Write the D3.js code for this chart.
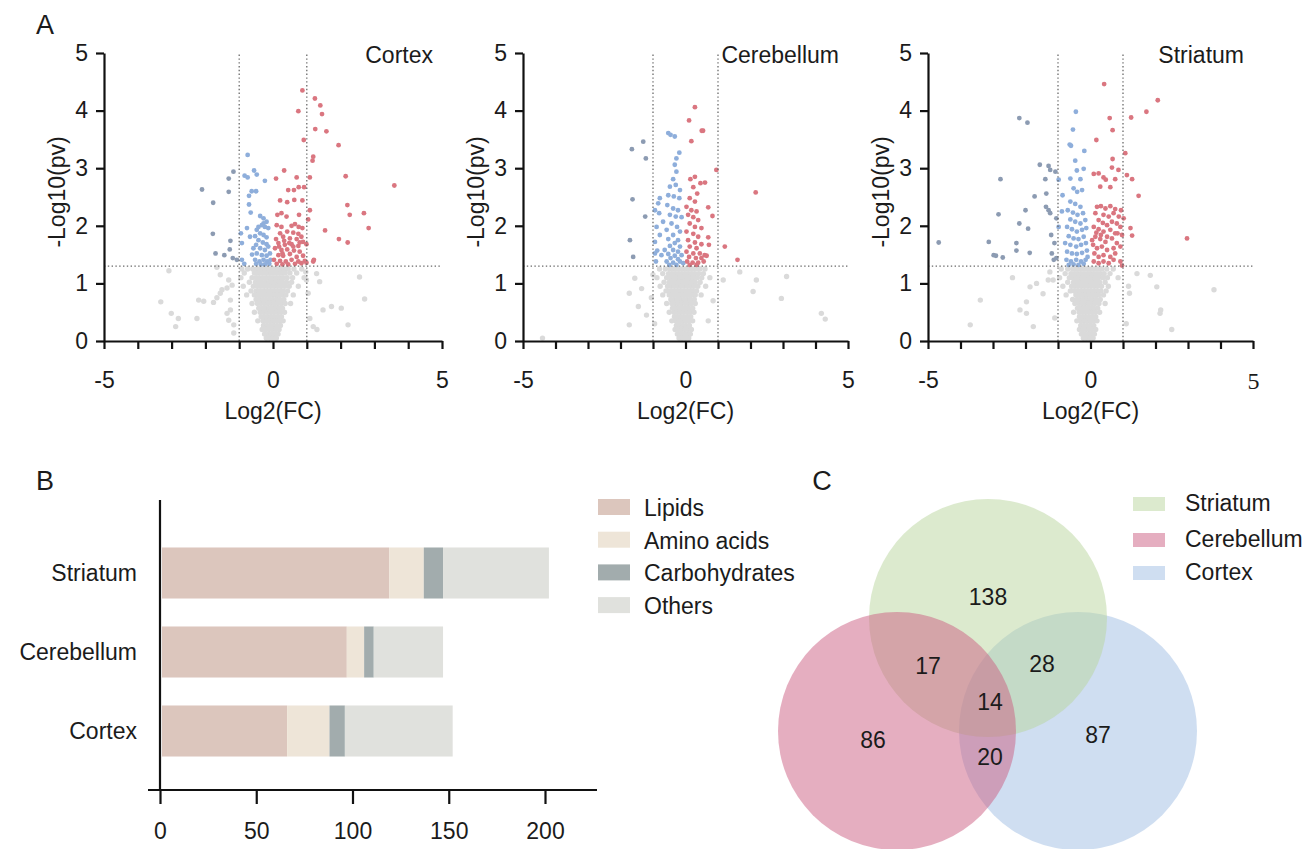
<!DOCTYPE html>
<html><head><meta charset="utf-8">
<script src="https://cdn.jsdelivr.net/npm/d3@7"></script>
<style>body{margin:0;background:#fff}svg{display:block}</style>
</head><body>
<svg id="chart" width="1315" height="849"></svg>
<script>
// ---------------- DATA ----------------
const regions = ["Cortex", "Cerebellum", "Striatum"];
const log2fcDomain = [-5, 5];
const pvDomain = [0, 5];
const xTickValues = [-5, -4, -3, -2, -1, 0, 1, 2, 3, 4, 5];
const xTickLabels = [-5, 0, 5];
const yTickValues = [0, 1, 2, 3, 4, 5];
const pvThreshold = 1.3;
const fcThresholds = [-1, 1];

// Cortex
const cortexUp = [[0.87,4.35],[1.24,4.21],[1.40,4.09],[1.45,3.94],[0.75,3.99],[1.25,3.68],[1.58,3.64],[1.94,3.40],[0.91,3.49],[1.19,3.20],[1.17,3.13],[0.33,2.96],[0.09,2.82],[0.70,2.84],[1.09,2.84],[2.15,2.86],[3.59,2.70],[0.92,2.67],[0.76,2.67],[0.62,2.62],[0.45,2.62],[0.21,2.44],[0.42,2.41],[0.63,2.45],[0.87,2.44],[1.09,2.27],[2.20,2.36],[2.27,2.19],[2.69,2.22],[2.83,1.96],[1.54,1.92],[1.95,1.77],[2.21,1.71],[0.13,2.19],[0.25,2.22],[0.40,2.16],[0.77,2.19],[1.04,2.11],
[0.11,2.01],[0.25,1.98],[0.55,2.00],[0.65,2.03],[0.76,1.98],[0.87,1.96],[0.21,1.87],[0.42,1.90],[0.60,1.88],[0.75,1.86],[0.84,1.81],[0.09,1.77],[0.30,1.81],[0.50,1.78],[0.70,1.77],[0.89,1.72],[0.16,1.70],[0.35,1.67],[0.55,1.68],[0.75,1.65],[0.99,1.68],[0.06,1.61],[0.25,1.58],[0.42,1.59],[0.62,1.57],[0.79,1.55],[0.16,1.49],[0.30,1.48],[0.50,1.51],[0.70,1.46],[0.89,1.48],[0.03,1.41],[0.21,1.39],[0.38,1.38],[0.55,1.41],[0.75,1.38],[0.94,1.39],[0.11,1.34],[0.28,1.33],[0.45,1.33],[0.65,1.34],[0.84,1.35],[0.99,1.36],[1.19,1.38],[1.21,1.41],[0.18,1.64],[0.48,1.70],[0.60,1.64],[0.28,1.52],[0.79,1.71],[0.33,1.74]];
const cortexDown = [[-0.75,3.23],[-1.31,2.82],[-1.17,2.94],[-1.31,2.59],[-0.84,2.87],[-0.75,2.84],[-0.56,2.96],[-0.48,2.89],[-0.24,2.78],[-0.63,2.60],[-0.50,2.60],[-0.71,2.52],[-0.71,2.37],[-0.66,2.23],[-2.10,2.63],[-1.77,2.40],[-1.78,1.86],[-1.26,1.74],[-1.28,1.59],[-1.44,1.49],[-1.70,1.52],[-1.07,1.41],[-1.19,1.44],[-0.92,1.70],[-0.95,1.87],[-0.77,1.96],[-0.68,1.81],[-0.92,1.41],[-0.85,1.34],[-0.62,1.50],
[-0.38,2.17],[-0.28,2.13],[-0.19,2.07],[-0.33,2.01],[-0.24,1.98],[-0.14,1.96],[-0.48,1.93],[-0.38,1.87],[-0.28,1.84],[-0.19,1.80],[-0.53,1.82],[-0.43,1.75],[-0.30,1.71],[-0.19,1.68],[-0.50,1.67],[-0.38,1.61],[-0.24,1.58],[-0.14,1.64],[-0.48,1.52],[-0.33,1.49],[-0.19,1.48],[-0.09,1.52],[-0.53,1.41],[-0.40,1.38],[-0.28,1.41],[-0.17,1.38],[-0.07,1.41],[-0.50,1.34],[-0.36,1.33],[-0.24,1.33],[-0.11,1.34],[-0.28,2.04],[-0.43,1.98],[-0.58,1.61]];
const cortexGrayRows = [
 [1.25,[-0.92,-0.75,-0.6,-0.48,-0.38,-0.28,-0.18,-0.08,0.02,0.12,0.22,0.33,0.45,0.62,0.85]],
 [1.18,[-0.85,-0.55,-0.45,-0.35,-0.24,-0.15,-0.05,0.05,0.15,0.25,0.36,0.5,0.7]],
 [1.10,[-0.95,-0.62,-0.5,-0.4,-0.3,-0.2,-0.1,0.0,0.1,0.2,0.3,0.42,0.58,0.92]],
 [1.02,[-0.7,-0.52,-0.42,-0.33,-0.22,-0.12,-0.02,0.08,0.18,0.28,0.4,0.55]],
 [0.95,[-0.88,-0.58,-0.46,-0.36,-0.26,-0.16,-0.06,0.04,0.14,0.24,0.35,0.48,0.75]],
 [0.87,[-0.65,-0.5,-0.4,-0.3,-0.2,-0.1,0.0,0.1,0.2,0.3,0.43]],
 [0.80,[-0.78,-0.55,-0.44,-0.34,-0.24,-0.14,-0.04,0.06,0.16,0.26,0.38,0.6]],
 [0.72,[-0.5,-0.4,-0.3,-0.2,-0.1,0.0,0.1,0.2,0.32]],
 [0.65,[-0.62,-0.46,-0.36,-0.26,-0.16,-0.06,0.04,0.14,0.24,0.36,0.52]],
 [0.57,[-0.42,-0.32,-0.22,-0.12,-0.02,0.08,0.18,0.28]],
 [0.50,[-0.55,-0.38,-0.28,-0.18,-0.08,0.02,0.12,0.22,0.34]],
 [0.42,[-0.35,-0.25,-0.15,-0.05,0.05,0.15,0.25]],
 [0.35,[-0.45,-0.3,-0.2,-0.1,0.0,0.1,0.2,0.3]],
 [0.27,[-0.28,-0.18,-0.08,0.02,0.12,0.22]],
 [0.20,[-0.32,-0.22,-0.12,-0.02,0.08,0.18]],
 [0.12,[-0.25,-0.15,-0.05,0.05,0.15]],
 [0.05,[-0.2,-0.1,0.0,0.1]]];
const cortexGrayScatter = [[-3.08,1.22],[-3.32,0.68],[-3.01,0.48],[-2.80,0.39],[-2.88,0.25],[-2.25,0.39],[-2.20,0.71],[-2.05,0.69],[-1.76,0.67],[-1.66,0.75],[-1.56,0.83],[-1.51,0.89],[-1.36,0.92],[-1.56,1.15],[-1.31,1.06],[-1.21,0.97],[-1.26,0.71],[-1.26,0.54],[-1.36,0.48],[-1.31,0.36],[-1.16,0.28],[-1.16,0.14],[-1.66,1.28],[1.29,1.17],[1.38,1.03],[1.48,0.54],[1.73,0.60],[2.02,0.57],[2.22,0.28],[2.56,1.11],[2.71,0.73],[1.19,0.25],[1.09,0.39],[0.99,1.06],[1.04,0.83],[0.97,1.20],[1.30,0.20]];

// Cerebellum
const cerebellumUp = [[0.29,4.06],[0.11,3.83],[0.54,3.65],[0.50,3.65],[0.18,3.47],[0.95,2.97],[0.29,2.85],[0.15,2.81],[0.46,2.74],[0.60,2.75],[2.16,2.58],[0.24,2.67],[0.36,2.56],[0.13,2.48],[0.29,2.42],[0.03,2.33],[0.70,2.32],[0.18,2.27],[0.34,2.25],[0.08,2.19],[0.24,2.15],[0.83,2.17],[0.39,2.10],[0.13,2.04],[0.29,1.98],[0.49,1.96],[0.03,1.90],[0.24,1.86],[0.39,1.81],[0.70,1.80],[0.08,1.75],[0.29,1.71],[0.49,1.68],[0.72,1.67],[1.21,1.64],[0.13,1.64],[0.34,1.61],[0.03,1.55],[0.24,1.52],[0.44,1.52],[0.59,1.49],[0.11,1.46],[0.32,1.44],[0.49,1.44],[0.65,1.48],[0.05,1.38],[0.22,1.36],[0.39,1.36],[0.56,1.38],[0.13,1.32],[0.34,1.32],[1.60,1.41]];
const cerebellumDown = [[-1.65,3.33],[-1.30,3.46],[-1.22,3.17],[-1.63,2.46],[-1.24,2.16],[-1.71,1.75],[-1.61,1.46],[-0.53,3.61],[-0.46,3.58],[-0.33,3.55],[-0.19,3.27],[-0.28,3.17],[-0.33,3.06],[-0.28,2.94],[-0.38,2.81],[-0.48,2.68],[-0.30,2.71],[-0.17,2.62],[-0.53,2.53],[-0.36,2.51],[-0.19,2.48],[-0.79,2.48],[-0.84,2.39],[-0.56,2.36],[-0.38,2.30],[-0.23,2.27],[-0.94,2.27],[-0.81,2.22],[-0.48,2.19],[-0.30,2.16],[-0.12,2.15],[-0.69,2.07],[-0.43,2.04],[-0.26,1.98],[-0.89,1.98],[-0.58,1.93],[-0.17,1.90],[-0.79,1.84],[-0.38,1.84],[-0.53,1.77],[-0.23,1.75],[-0.94,1.72],[-0.33,1.70],[-0.48,1.65],[-0.17,1.64],[-0.87,1.57],[-0.64,1.58],[-0.38,1.58],[-0.23,1.55],[-0.94,1.52],[-0.74,1.49],[-0.53,1.51],[-0.33,1.48],[-0.12,1.49],[-0.46,1.44],[-0.23,1.42],[-0.58,1.38],[-0.38,1.36],[-0.17,1.38],[-0.91,1.38],[-0.50,1.32],[-0.28,1.32],[-0.07,1.35]];
const cerebellumGrayRows = [
 [1.25,[-0.8,-0.62,-0.48,-0.38,-0.28,-0.18,-0.08,0.02,0.12,0.22,0.32,0.45,0.6]],
 [1.17,[-0.7,-0.52,-0.42,-0.32,-0.22,-0.12,-0.02,0.08,0.18,0.28,0.4,0.55]],
 [1.10,[-0.88,-0.58,-0.46,-0.36,-0.26,-0.16,-0.06,0.04,0.14,0.24,0.36,0.5]],
 [1.02,[-0.66,-0.5,-0.4,-0.3,-0.2,-0.1,0.0,0.1,0.2,0.3,0.45]],
 [0.95,[-0.78,-0.55,-0.44,-0.34,-0.24,-0.14,-0.04,0.06,0.16,0.26,0.38,0.62]],
 [0.87,[-0.6,-0.48,-0.38,-0.28,-0.18,-0.08,0.02,0.12,0.22,0.34]],
 [0.80,[-0.7,-0.5,-0.4,-0.3,-0.2,-0.1,0.0,0.1,0.2,0.3,0.48]],
 [0.72,[-0.45,-0.35,-0.25,-0.15,-0.05,0.05,0.15,0.27]],
 [0.65,[-0.58,-0.42,-0.32,-0.22,-0.12,-0.02,0.08,0.18,0.3]],
 [0.57,[-0.4,-0.3,-0.2,-0.1,0.0,0.1,0.22]],
 [0.50,[-0.5,-0.36,-0.26,-0.16,-0.06,0.04,0.14,0.26]],
 [0.42,[-0.34,-0.24,-0.14,-0.04,0.06,0.16]],
 [0.35,[-0.42,-0.3,-0.2,-0.1,0.0,0.1,0.22]],
 [0.27,[-0.28,-0.18,-0.08,0.02,0.12]],
 [0.20,[-0.32,-0.22,-0.12,-0.02,0.08,0.18]],
 [0.12,[-0.25,-0.15,-0.05,0.05,0.15]],
 [0.05,[-0.2,-0.1,0.0,0.1]]];
const cerebellumGrayScatter = [[-1.56,1.09],[-1.35,0.91],[-1.73,0.83],[-1.73,0.28],[-1.45,0.60],[-1.20,0.45],[-1.05,0.75],[-1.00,1.15],[-0.95,0.30],[0.75,1.10],[0.85,0.70],[0.70,0.35],[1.16,1.06],[1.67,1.20],[2.08,0.86],[2.18,1.06],[3.11,1.12],[2.95,0.74],[4.18,0.48],[-4.40,0.05],[4.30,0.38]];

// Striatum
const striatumUp = [[0.42,4.46],[2.07,4.18],[1.72,3.98],[0.59,3.87],[1.25,3.88],[0.68,3.66],[0.18,3.49],[1.07,3.26],[0.68,3.16],[0.86,2.97],[0.66,3.01],[1.12,2.88],[1.28,2.81],[0.10,2.90],[0.25,2.91],[0.40,2.84],[0.47,2.80],[0.76,2.81],[0.30,2.68],[0.61,2.67],[1.48,2.52],[2.97,1.78],[1.23,1.96],[1.28,1.83],[0.92,1.98],[0.97,1.84],
[0.20,2.33],[0.32,2.34],[0.46,2.30],[0.61,2.34],[0.76,2.29],[0.15,2.22],[0.40,2.19],[0.56,2.16],[0.71,2.22],[0.25,2.10],[0.38,2.05],[0.51,2.01],[0.66,2.07],[0.81,2.04],[0.10,1.98],[0.25,1.94],[0.40,1.90],[0.61,1.93],[0.76,1.87],[0.15,1.81],[0.30,1.77],[0.46,1.72],[0.66,1.78],[0.81,1.70],[0.08,1.67],[0.20,1.61],[0.35,1.64],[0.51,1.58],[0.71,1.61],[0.92,1.64],[0.12,1.52],[0.25,1.46],[0.40,1.49],[0.61,1.46],[0.76,1.52],[0.10,1.38],[0.25,1.35],[0.40,1.38],[0.56,1.35],[0.71,1.41],[0.92,1.38],[0.97,1.31],[1.02,2.13],[0.87,2.16],[0.94,2.27],[0.83,1.87],[0.18,1.88],[0.32,1.84],[0.51,1.81],[0.05,1.75]];
const striatumDown = [[-0.45,3.98],[-2.19,3.87],[-1.94,3.79],[-0.54,3.67],[-0.64,3.41],[-0.60,3.39],[-0.19,3.30],[-0.47,3.13],[-1.56,3.06],[-1.29,3.04],[-1.24,2.97],[-1.08,2.94],[-0.42,2.96],[-0.21,2.99],[-2.77,2.81],[-1.39,2.81],[-0.98,2.80],[-0.62,2.82],[-0.31,2.81],[-0.86,2.53],[-1.36,2.56],[-1.72,2.51],[-0.52,2.65],[-0.41,2.59],[-0.26,2.62],[-2.83,2.20],[-2.00,2.27],[-1.37,2.33],[-1.29,2.27],[-1.24,2.22],[-2.19,2.04],[-1.92,1.95],[-4.67,1.71],[-3.13,1.72],[-2.28,1.70],[-2.28,1.57],[-1.87,1.53],[-2.98,1.49],[-2.91,1.48],[-2.70,1.45],[-1.21,1.84],[-1.11,1.70],[-1.19,1.52],[-1.13,1.41],[-1.05,1.44],[-0.98,1.98],[-1.05,2.13],[-0.88,2.25],
[-0.62,2.42],[-0.47,2.38],[-0.31,2.33],[-0.70,2.27],[-0.54,2.23],[-0.40,2.19],[-0.23,2.22],[-0.62,2.11],[-0.47,2.07],[-0.31,2.04],[-0.16,2.10],[-0.72,1.98],[-0.57,1.94],[-0.42,1.90],[-0.26,1.93],[-0.13,1.96],[-0.67,1.82],[-0.52,1.78],[-0.37,1.77],[-0.21,1.81],[-0.78,1.70],[-0.62,1.67],[-0.44,1.64],[-0.29,1.67],[-0.14,1.70],[-0.72,1.55],[-0.57,1.52],[-0.42,1.51],[-0.26,1.53],[-0.11,1.57],[-0.74,1.41],[-0.60,1.38],[-0.44,1.41],[-0.29,1.38],[-0.15,1.41],[-0.67,1.32],[-0.52,1.33],[-0.37,1.32],[-0.21,1.34],[-0.09,1.46]];
const striatumGrayRows = [
 [1.25,[-0.9,-0.7,-0.55,-0.45,-0.35,-0.25,-0.15,-0.05,0.05,0.15,0.25,0.35,0.5,0.7]],
 [1.17,[-0.78,-0.6,-0.5,-0.4,-0.3,-0.2,-0.1,0.0,0.1,0.2,0.3,0.42,0.6]],
 [1.10,[-0.95,-0.65,-0.55,-0.45,-0.35,-0.25,-0.15,-0.05,0.05,0.15,0.25,0.38,0.52,0.85]],
 [1.02,[-0.7,-0.52,-0.42,-0.32,-0.22,-0.12,-0.02,0.08,0.18,0.28,0.45]],
 [0.95,[-0.85,-0.58,-0.48,-0.38,-0.28,-0.18,-0.08,0.02,0.12,0.22,0.34,0.55]],
 [0.87,[-0.62,-0.5,-0.4,-0.3,-0.2,-0.1,0.0,0.1,0.2,0.32,0.48]],
 [0.80,[-0.75,-0.45,-0.35,-0.25,-0.15,-0.05,0.05,0.15,0.25,0.4]],
 [0.72,[-0.55,-0.42,-0.32,-0.22,-0.12,-0.02,0.08,0.18,0.3]],
 [0.65,[-0.48,-0.36,-0.26,-0.16,-0.06,0.04,0.14,0.26,0.45]],
 [0.57,[-0.4,-0.3,-0.2,-0.1,0.0,0.1,0.22]],
 [0.50,[-0.52,-0.35,-0.25,-0.15,-0.05,0.05,0.15,0.28]],
 [0.42,[-0.34,-0.24,-0.14,-0.04,0.06,0.16]],
 [0.35,[-0.42,-0.3,-0.2,-0.1,0.0,0.1,0.2]],
 [0.27,[-0.3,-0.2,-0.1,0.0,0.1]],
 [0.20,[-0.34,-0.24,-0.14,-0.04,0.06,0.16]],
 [0.12,[-0.28,-0.18,-0.08,0.02,0.12]],
 [0.05,[-0.22,-0.12,-0.02,0.08]]];
const striatumGrayScatter = [[-3.39,0.71],[-3.70,0.28],[-2.17,0.54],[-1.97,0.68],[-1.86,0.94],[-1.66,1.00],[-1.46,0.82],[-1.30,1.06],[-1.25,1.20],[-1.15,1.06],[-1.97,0.48],[-1.76,0.25],[-2.40,1.10],[1.43,1.17],[1.84,1.14],[2.04,0.94],[2.14,0.48],[1.20,0.83],[1.17,0.95],[3.80,0.89],[2.50,0.20],[2.16,0.54],[-1.10,0.40],[1.10,0.30]];

// Panel B
const barCategories = ["Striatum", "Cerebellum", "Cortex"];
const classes = ["Lipids", "Amino acids", "Carbohydrates", "Others"];
const lipids = [118, 96, 65];
const aminoAcids = [18, 9, 22];
const carbohydrates = [10, 5, 8];
const others = [55, 36, 56];
const barTicks = [0, 50, 100, 150, 200];

// Panel C
const vennSets = ["Striatum", "Cerebellum", "Cortex"];
const vennRegions = ["Striatum only", "Cerebellum only", "Cortex only", "Striatum∩Cerebellum", "Striatum∩Cortex", "Cerebellum∩Cortex", "All"];
const vennCounts = [138, 86, 87, 17, 28, 20, 14];

// ---------------- DRAW ----------------
const FONT = "'Liberation Sans', Arial, Helvetica, sans-serif";
const FS = 23;
const INK = "#1b1b1b";
const svg = d3.select("#chart");
svg.append("rect").attr("width",1315).attr("height",849).attr("fill","#fff");

const upData = {Cortex: cortexUp, Cerebellum: cerebellumUp, Striatum: striatumUp};
const downData = {Cortex: cortexDown, Cerebellum: cerebellumDown, Striatum: striatumDown};
const grayRows = {Cortex: cortexGrayRows, Cerebellum: cerebellumGrayRows, Striatum: striatumGrayRows};
const grayScatter = {Cortex: cortexGrayScatter, Cerebellum: cerebellumGrayScatter, Striatum: striatumGrayScatter};
const panelX = {Cortex: [104, 442], Cerebellum: [523, 848], Striatum: [928, 1253]};

regions.forEach(name => {
  const x = d3.scaleLinear().domain(log2fcDomain).range(panelX[name]);
  const y = d3.scaleLinear().domain(pvDomain).range([341, 53]);
  const g = svg.append("g");
  const gray = grayScatter[name].concat(grayRows[name].flatMap(([yy, xs]) => xs.map(xx => [xx, yy])));
  g.append("g").selectAll("circle").data(gray).join("circle")
    .attr("cx", d => x(d[0])).attr("cy", d => y(d[1])).attr("r", 2.7).attr("fill", "#dadada");
  g.append("g").selectAll("circle").data(downData[name]).join("circle")
    .attr("cx", d => x(d[0])).attr("cy", d => y(d[1])).attr("r", 2.4)
    .attr("fill", d => d[0] < fcThresholds[0] ? "#8c9bb2" : "#8eaedb");
  g.append("g").selectAll("circle").data(upData[name]).join("circle")
    .attr("cx", d => x(d[0])).attr("cy", d => y(d[1])).attr("r", 2.4).attr("fill", "#da7680");

  // threshold lines
  const dl = g.append("g").attr("stroke", "#6a6a6a").attr("stroke-width", 1.3).attr("stroke-dasharray", "1.4 2.4");
  dl.append("line").attr("x1", x(log2fcDomain[0])).attr("x2", x(log2fcDomain[1])).attr("y1", y(pvThreshold)).attr("y2", y(pvThreshold));
  fcThresholds.forEach(t => dl.append("line").attr("x1", x(t)).attr("x2", x(t)).attr("y1", y(0)).attr("y2", y(5)));

  // axes
  const ax = g.append("g").attr("transform", `translate(0,${y(0)})`)
    .call(d3.axisBottom(x).tickValues(xTickValues).tickSize(8).tickSizeOuter(0).tickPadding(23)
      .tickFormat(d => xTickLabels.includes(d) ? String(d) : ""));
  const ay = g.append("g").attr("transform", `translate(${x(-5)},0)`)
    .call(d3.axisLeft(y).tickValues(yTickValues).tickSize(8).tickSizeOuter(0).tickPadding(8).tickFormat(d => String(d)));
  [ax, ay].forEach(a => {
    a.selectAll("path,line").attr("stroke", "#111").attr("stroke-width", 2.2);
    a.selectAll("text").attr("font-family", FONT).attr("font-size", FS).attr("fill", INK);
  });
  if (name === "Striatum") {
    ax.selectAll("text").filter(d => d === 5).attr("font-family", "'Liberation Serif', 'DejaVu Serif', serif").attr("font-size", 24);
  }
  g.append("text").attr("transform", `translate(${x(-5) - 47},192) rotate(-90)`)
    .attr("text-anchor", "middle").attr("dominant-baseline", "central")
    .attr("font-family", FONT).attr("font-size", FS).attr("fill", INK).text("-Log10(pv)");
  g.append("text").attr("x", x(0)).attr("y", 411).attr("text-anchor", "middle").attr("dominant-baseline", "central")
    .attr("font-family", FONT).attr("font-size", FS).attr("fill", INK).text("Log2(FC)");
  g.append("text").attr("x", x(5) - 9).attr("y", 55).attr("text-anchor", "end").attr("dominant-baseline", "central")
    .attr("font-family", FONT).attr("font-size", FS).attr("fill", INK).text(name);
});

// panel letters
[["A", 45, 25], ["B", 45, 481], ["C", 822, 481]].forEach(([t, px, py]) =>
  svg.append("text").attr("x", px).attr("y", py).attr("text-anchor", "middle").attr("dominant-baseline", "central")
    .attr("font-family", FONT).attr("font-size", 27).attr("fill", INK).text(t));

// ---------------- Panel B ----------------
{
  const colors = ["#dcc6bd", "#eee5d8", "#a2acad", "#e0e1dd"];
  const rows = barCategories.map((c, i) => ({cat: c, "Lipids": lipids[i], "Amino acids": aminoAcids[i], "Carbohydrates": carbohydrates[i], "Others": others[i]}));
  const stack = d3.stack().keys(classes)(rows);
  const x = d3.scaleLinear().domain([0, 200]).range([160, 545]);
  const y = d3.scaleBand().domain(barCategories).range([533.5, 770.5]).paddingInner(0.354).paddingOuter(0.177);
  const g = svg.append("g");
  stack.forEach((layer, k) => {
    g.append("g").selectAll("rect").data(layer).join("rect")
      .attr("x", d => x(d[0]) + 2).attr("width", d => x(d[1]) - x(d[0]))
      .attr("y", d => y(d.data.cat)).attr("height", y.bandwidth())
      .attr("fill", colors[k]);
  });
  const ax = g.append("g").attr("transform", "translate(0,790)")
    .call(d3.axisBottom(x).tickValues(barTicks).tickSize(14).tickSizeOuter(0).tickPadding(19));
  ax.select(".domain").remove();
  ax.selectAll("line").attr("stroke", "#111").attr("stroke-width", 2.2);
  ax.selectAll("text").attr("font-family", FONT).attr("font-size", FS).attr("fill", INK);
  g.append("line").attr("x1", 148).attr("x2", 597).attr("y1", 790).attr("y2", 790).attr("stroke", "#111").attr("stroke-width", 2.2);
  g.append("line").attr("x1", x(0)).attr("x2", x(0)).attr("y1", 500).attr("y2", 790).attr("stroke", "#111").attr("stroke-width", 2.2);
  g.append("g").selectAll("text").data(barCategories).join("text")
    .attr("x", 137).attr("y", d => y(d) + y.bandwidth() / 2).attr("text-anchor", "end").attr("dominant-baseline", "central")
    .attr("font-family", FONT).attr("font-size", FS).attr("fill", INK).text(d => d);
  // legend
  const lg = g.append("g");
  classes.forEach((c, i) => {
    const cy = 507 + i * 32.7;
    lg.append("rect").attr("x", 598).attr("y", cy - 8).attr("width", 32).attr("height", 16).attr("fill", colors[i]);
    lg.append("text").attr("x", 644).attr("y", cy + 1).attr("dominant-baseline", "central")
      .attr("font-family", FONT).attr("font-size", FS).attr("fill", INK).text(c);
  });
}

// ---------------- Panel C ----------------
{
  const circleFill = {Striatum: "#bad59e", Cerebellum: "#cc5e81", Cortex: "#a0bde4"};
  const circles = [
    {set: "Cortex", cx: 1078, cy: 731},
    {set: "Striatum", cx: 988, cy: 618},
    {set: "Cerebellum", cx: 897, cy: 731}];
  const r = 119;
  const g = svg.append("g");
  g.selectAll("circle").data(circles).join("circle")
    .attr("cx", d => d.cx).attr("cy", d => d.cy).attr("r", r)
    .attr("fill", d => circleFill[d.set]).attr("fill-opacity", 0.5);
  const labelPos = [[988, 597], [873, 740], [1098, 735], [928, 666], [1042, 664], [990, 757], [990, 702]];
  g.append("g").selectAll("text").data(vennCounts).join("text")
    .attr("x", (d, i) => labelPos[i][0]).attr("y", (d, i) => labelPos[i][1])
    .attr("text-anchor", "middle").attr("dominant-baseline", "central")
    .attr("font-family", FONT).attr("font-size", FS).attr("fill", INK).text(d => d);
  const legendY = [504, 540, 573];
  vennSets.forEach((s, i) => {
    g.append("rect").attr("x", 1133).attr("y", legendY[i] - 7).attr("width", 32).attr("height", 14)
      .attr("fill", circleFill[s]).attr("fill-opacity", 0.5);
    g.append("text").attr("x", 1185).attr("y", legendY[i] - 1).attr("dominant-baseline", "central")
      .attr("font-family", FONT).attr("font-size", FS).attr("fill", INK).text(s);
  });
}
</script></body></html>
